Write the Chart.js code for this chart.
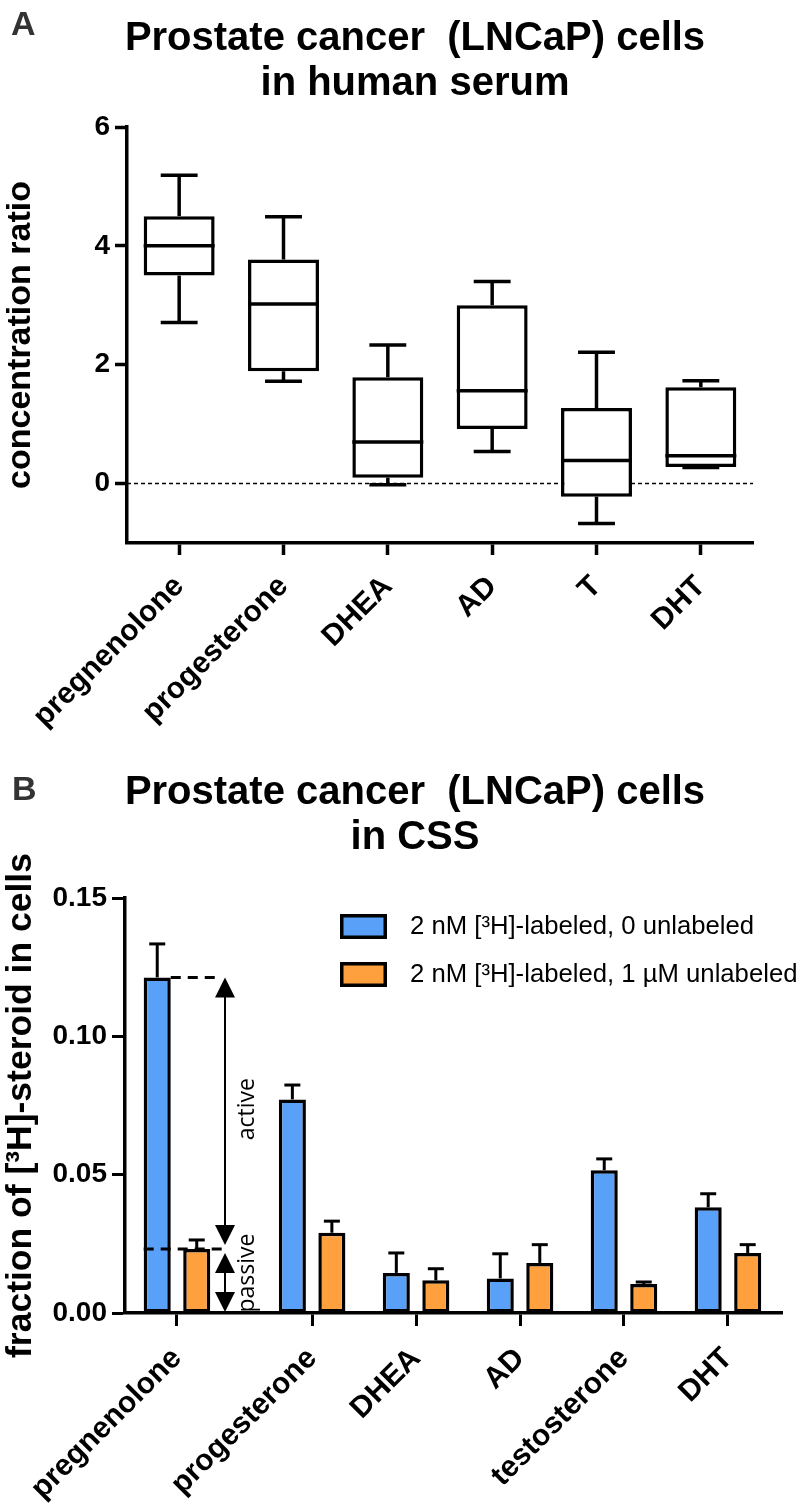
<!DOCTYPE html>
<html>
<head>
<meta charset="utf-8">
<title>LNCaP steroid uptake</title>
<script src="https://cdn.jsdelivr.net/npm/chart.js@4.4.1/dist/chart.umd.min.js"></script>
<style>
  html, body { margin: 0; padding: 0; background: #fff; overflow: hidden; }
  .panel { position: relative; width: 800px; }
  #panelA { height: 770px; }
  #panelB { height: 737px; }
  .letter {
    position: absolute;
    font: bold 34px 'Liberation Sans', Arial, sans-serif;
    line-height: 34px;
    color: #333;
  }
  .title {
    position: absolute;
    left: 30px;
    width: 770px;
    text-align: center;
    font: bold 40px 'Liberation Sans', Arial, sans-serif;
    line-height: 45px;
    color: #000;
  }
</style>
</head>
<body>
<div class="panel" id="panelA">
  <canvas id="chartA"></canvas>
  <div class="letter" style="left:11px; top:6px">A</div>
  <div class="title" style="top:14px">Prostate cancer&nbsp; (LNCaP) cells<br>in human serum</div>
</div>
<div class="panel" id="panelB">
  <canvas id="chartB"></canvas>
  <div class="letter" style="left:12px; top:1px">B</div>
  <div class="title" style="top:-2px">Prostate cancer&nbsp; (LNCaP) cells<br>in CSS</div>
</div>
<script>
// --- panel A: box plots (concentration ratio in human serum)
const steroidsA = ['pregnenolone', 'progesterone', 'DHEA', 'AD', 'T', 'DHT'];
const whiskerLow  = [2.71, 1.72, -0.02, 0.54, -0.67, 0.27];
const quartile1   = [3.50, 1.89,  0.10, 0.92, -0.22, 0.28];
const medians     = [4.00, 3.02,  0.70, 1.56,  0.39, 0.47];
const quartile3   = [4.50, 3.77,  1.79, 3.00,  1.27, 1.62];
const whiskerHigh = [5.19, 4.49,  2.33, 3.40,  2.21, 1.73];
const ticksA = [0, 2, 4, 6];

// --- panel B: bars with SEM (fraction of labelled steroid in cells, CSS)
const steroidsB = ['pregnenolone', 'progesterone', 'DHEA', 'AD', 'testosterone', 'DHT'];
const labelBlue = '2 nM [³H]-labeled, 0 unlabeled';
const labelOrange = '2 nM [³H]-labeled, 1 µM unlabeled';
const meanBlue   = [0.1213, 0.0772, 0.0145, 0.0125, 0.0516, 0.0382];
const errBlue    = [0.0121, 0.0052, 0.0072, 0.0089, 0.0041, 0.0049];
const meanOrange = [0.0231, 0.0290, 0.0118, 0.0181, 0.0105, 0.0217];
const errOrange  = [0.0033, 0.0042, 0.0042, 0.0066, 0.0007, 0.0030];
const ticksB = [0, 0.05, 0.10, 0.15];

const BLUE = '#58a0f8';
const ORANGE = '#ffa03f';
const SANS = "'Liberation Sans', Arial, Helvetica, sans-serif";

Chart.defaults.font.family = SANS;
Chart.defaults.color = '#000';
Chart.defaults.animation = false;

const bold = size => ({ family: SANS, size: size, weight: 'bold' });

function line(ctx, x1, y1, x2, y2) {
  ctx.beginPath();
  ctx.moveTo(x1, y1);
  ctx.lineTo(x2, y2);
  ctx.stroke();
}

function arrowHead(ctx, x, tipY, dir) {
  // dir = -1 points up, +1 points down
  ctx.beginPath();
  ctx.moveTo(x, tipY);
  ctx.lineTo(x - 10, tipY - dir * 20);
  ctx.lineTo(x + 10, tipY - dir * 20);
  ctx.closePath();
  ctx.fill();
}

// whiskers, medians and the dashed zero line for panel A
const boxWhiskers = {
  id: 'boxWhiskers',
  beforeDatasetsDraw(chart) {
    const { ctx, chartArea, scales } = chart;
    const y0 = scales.y.getPixelForValue(0);
    ctx.save();
    ctx.strokeStyle = '#000';
    ctx.lineWidth = 1.5;
    ctx.setLineDash([4, 3]);
    line(ctx, chartArea.left, y0, chartArea.right, y0);
    ctx.restore();
  },
  afterDatasetsDraw(chart) {
    const { ctx, scales } = chart;
    const py = v => scales.y.getPixelForValue(v);
    ctx.save();
    ctx.strokeStyle = '#000';
    ctx.lineWidth = 3.5;
    chart.getDatasetMeta(0).data.forEach((box, i) => {
      const half = box.width / 2;
      const cap = box.width * 0.26;
      line(ctx, box.x - half, py(medians[i]), box.x + half, py(medians[i]));
      line(ctx, box.x, py(quartile3[i]), box.x, py(whiskerHigh[i]));
      line(ctx, box.x - cap, py(whiskerHigh[i]), box.x + cap, py(whiskerHigh[i]));
      line(ctx, box.x, py(quartile1[i]), box.x, py(whiskerLow[i]));
      line(ctx, box.x - cap, py(whiskerLow[i]), box.x + cap, py(whiskerLow[i]));
    });
    ctx.restore();
  }
};

new Chart(document.getElementById('chartA'), {
  type: 'bar',
  data: {
    labels: steroidsA,
    datasets: [{
      data: steroidsA.map((_, i) => [quartile1[i], quartile3[i]]),
      backgroundColor: '#fff',
      borderColor: '#000',
      borderWidth: 3.5,
      borderSkipped: false,
      categoryPercentage: 1,
      barPercentage: 0.68
    }]
  },
  options: {
    responsive: true,
    maintainAspectRatio: false,
    layout: { padding: { left: 0, right: 47, top: 127, bottom: 0 } },
    plugins: {
      legend: { display: false },
      tooltip: { enabled: false }
    },
    scales: {
      x: {
        grid: { offset: false, drawOnChartArea: false, tickLength: 12, tickWidth: 3.5, tickColor: '#000' },
        border: { color: '#000', width: 3.5 },
        ticks: { color: '#000', font: bold(30), minRotation: 45, maxRotation: 45, autoSkip: false, padding: 14 },
        afterFit: s => { s.height = 227; }
      },
      y: {
        min: -1,
        max: 6,
        afterBuildTicks: s => { s.ticks = ticksA.map(v => ({ value: v })); },
        grid: { drawOnChartArea: false, tickLength: 12, tickWidth: 3.5, tickColor: '#000' },
        border: { color: '#000', width: 3.5 },
        ticks: { color: '#000', font: bold(28), padding: 5 },
        title: { display: true, text: 'concentration ratio', color: '#000', font: bold(34), padding: 0 },
        afterFit: s => { s.width = 127; }
      }
    }
  },
  plugins: [boxWhiskers]
});

// panel B: first group sits a little apart from the rest (room for the arrows)
const firstGroupGap = 1.3;
const groupX = steroidsB.map((_, i) => (i === 0 ? 0 : i - 1 + firstGroupGap));

// error bars, active/passive annotation and legend for panel B
const barExtras = {
  id: 'barExtras',
  afterDatasetsDraw(chart) {
    const { ctx, scales } = chart;
    const py = v => scales.y.getPixelForValue(v);
    const errs = [errBlue, errOrange];
    ctx.save();
    ctx.strokeStyle = '#000';
    ctx.fillStyle = '#000';
    ctx.lineWidth = 3;
    chart.data.datasets.forEach((ds, d) => {
      chart.getDatasetMeta(d).data.forEach((bar, i) => {
        const top = py(ds.data[i].y + errs[d][i]);
        line(ctx, bar.x, bar.y, bar.x, top);
        line(ctx, bar.x - 8, top, bar.x + 8, top);
      });
    });

    // active / passive uptake for pregnenolone
    const blueBar = chart.getDatasetMeta(0).data[0];
    const yTotal = py(meanBlue[0]);
    const yPassive = py(meanOrange[0]);
    const yZero = py(0);
    const ax = scales.x.getPixelForValue(groupX[0]) + 48;
    ctx.setLineDash([10, 7]);
    line(ctx, blueBar.x + blueBar.width / 2, yTotal, ax - 4, yTotal);
    line(ctx, blueBar.x - blueBar.width / 2, yPassive, ax - 3, yPassive);
    ctx.setLineDash([]);
    ctx.lineWidth = 2;
    line(ctx, ax, yTotal + 10, ax, yPassive - 14);
    arrowHead(ctx, ax, yTotal, -1);
    arrowHead(ctx, ax, yPassive - 4, 1);
    line(ctx, ax, yPassive + 14, ax, yZero - 10);
    arrowHead(ctx, ax, yPassive + 4, -1);
    arrowHead(ctx, ax, yZero - 1, 1);

    ctx.font = "23px 'Open Sans', sans-serif";
    ctx.textAlign = 'center';
    ctx.textBaseline = 'middle';
    [['active', (yTotal + yPassive) / 2 - 4], ['passive', (yPassive + yZero) / 2 - 8]].forEach(([t, yy]) => {
      ctx.save();
      ctx.translate(ax + 22, yy);
      ctx.rotate(-Math.PI / 2);
      ctx.fillText(t, 0, 0);
      ctx.restore();
    });
    ctx.restore();
  },
  afterDraw(chart) {
    const { ctx, chartArea } = chart;
    const left = chartArea.left + 215;
    ctx.save();
    ctx.font = '25.7px ' + SANS;
    ctx.textBaseline = 'middle';
    ctx.textAlign = 'left';
    chart.data.datasets.forEach((ds, d) => {
      const top = chartArea.top + 16 + d * 48;
      ctx.fillStyle = ds.backgroundColor;
      ctx.fillRect(left, top, 47, 25);
      ctx.strokeStyle = '#000';
      ctx.lineWidth = 3.5;
      ctx.strokeRect(left + 1.75, top + 1.75, 43.5, 21.5);
      ctx.fillStyle = '#000';
      ctx.fillText(ds.label, left + 70, top + 13);
    });
    ctx.restore();
  }
};

new Chart(document.getElementById('chartB'), {
  type: 'bar',
  data: {
    datasets: [
      {
        label: labelBlue,
        data: meanBlue.map((v, i) => ({ x: groupX[i], y: v })),
        backgroundColor: BLUE,
        borderColor: '#000',
        borderWidth: 3.5,
        borderSkipped: false
      },
      {
        label: labelOrange,
        data: meanOrange.map((v, i) => ({ x: groupX[i], y: v })),
        backgroundColor: ORANGE,
        borderColor: '#000',
        borderWidth: 3.5,
        borderSkipped: false
      }
    ]
  },
  options: {
    responsive: true,
    maintainAspectRatio: false,
    datasets: { bar: { categoryPercentage: 0.76, barPercentage: 0.685 } },
    layout: { padding: { left: 0, right: 18, top: 128, bottom: 0 } },
    plugins: {
      legend: { display: false },
      tooltip: { enabled: false }
    },
    scales: {
      x: {
        type: 'linear',
        offset: false,
        min: -0.5,
        max: 5.82,
        afterBuildTicks: s => { s.ticks = groupX.map(v => ({ value: v })); },
        grid: { offset: false, drawOnChartArea: false, tickLength: 13, tickWidth: 3, tickColor: '#000' },
        border: { color: '#000', width: 3.5 },
        ticks: {
          color: '#000', font: bold(30), minRotation: 45, maxRotation: 45, autoSkip: false, padding: 15,
          callback: (v, i) => steroidsB[i]
        },
        afterFit: s => { s.height = 194; }
      },
      y: {
        min: 0,
        max: 0.15,
        afterBuildTicks: s => { s.ticks = ticksB.map(v => ({ value: v })); },
        grid: { drawOnChartArea: false, tickLength: 13, tickWidth: 3, tickColor: '#000' },
        border: { color: '#000', width: 3.5 },
        ticks: { color: '#000', font: bold(28), padding: 5, callback: v => v.toFixed(2) },
        title: { display: true, text: 'fraction of [³H]-steroid in cells', color: '#000', font: bold(35.5), padding: 0 },
        afterFit: s => { s.width = 125; }
      }
    }
  },
  plugins: [barExtras]
});
</script>
</body>
</html>
